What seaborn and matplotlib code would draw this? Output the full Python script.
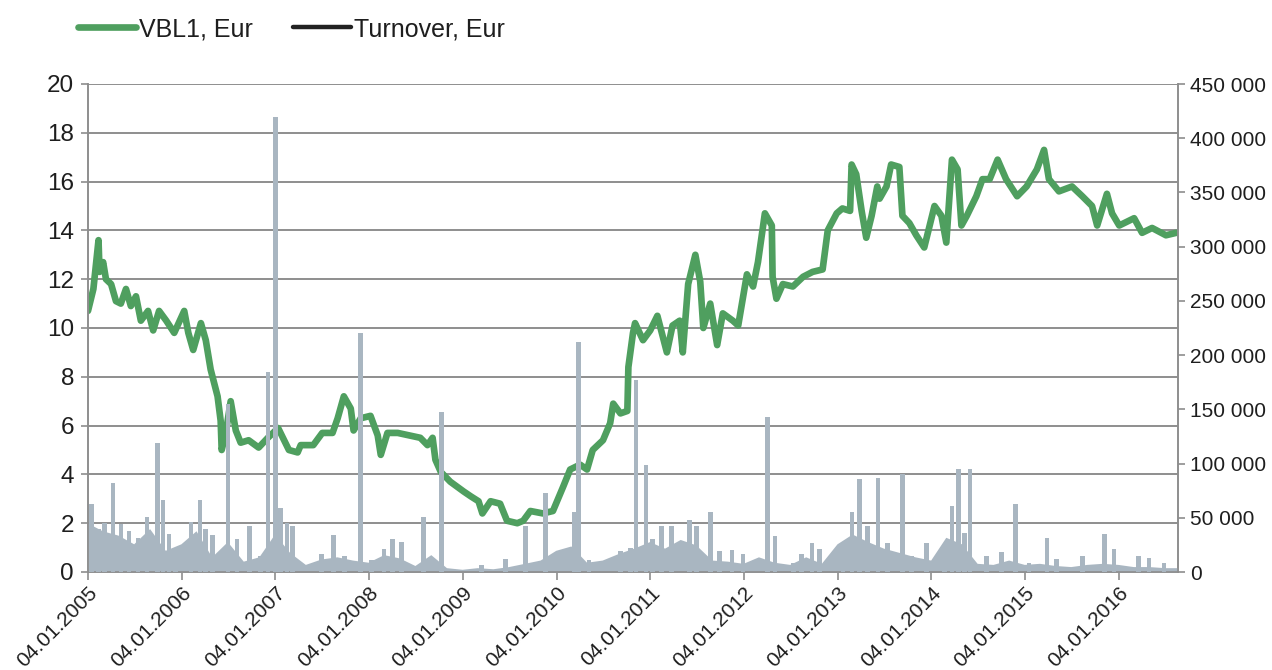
import matplotlib
matplotlib.use("Agg")
import matplotlib.pyplot as plt
import matplotlib.dates as mdates
from matplotlib.lines import Line2D
from matplotlib.ticker import FuncFormatter, MultipleLocator
import seaborn as sns
import pandas as pd

# ---------------- data ----------------
price_dates = [
    "2005-01-04", "2005-01-25", "2005-02-14", "2005-02-18", "2005-03-04", "2005-03-15",
    "2005-04-04", "2005-04-23", "2005-05-12", "2005-06-01", "2005-06-20", "2005-07-10",
    "2005-07-29", "2005-08-26", "2005-09-15", "2005-10-08", "2005-11-05", "2005-12-06",
    "2006-01-14", "2006-01-30", "2006-02-18", "2006-03-20", "2006-04-08", "2006-04-27",
    "2006-05-24", "2006-06-05", "2006-06-09", "2006-06-25", "2006-07-14", "2006-08-03",
    "2006-08-22", "2006-09-22", "2006-10-31", "2006-12-06", "2007-01-15", "2007-02-26",
    "2007-04-01", "2007-04-13", "2007-06-01", "2007-07-06", "2007-08-15", "2007-09-04",
    "2007-09-28", "2007-10-25", "2007-11-05", "2007-12-03", "2008-01-10", "2008-02-07",
    "2008-02-19", "2008-03-16", "2008-04-25", "2008-07-22", "2008-08-19", "2008-09-08",
    "2008-09-19", "2008-10-10", "2008-11-16", "2009-01-07", "2009-02-04", "2009-03-06",
    "2009-03-21", "2009-04-22", "2009-05-29", "2009-06-25", "2009-08-04", "2009-08-27",
    "2009-09-24", "2009-11-12", "2009-12-21", "2010-01-30", "2010-02-26", "2010-04-06",
    "2010-05-03", "2010-05-25", "2010-07-04", "2010-08-01", "2010-08-13", "2010-09-10",
    "2010-10-07", "2010-10-11", "2010-10-29", "2010-11-06", "2010-12-07", "2011-01-04",
    "2011-02-01", "2011-03-10", "2011-04-01", "2011-04-29", "2011-05-11", "2011-06-01",
    "2011-06-29", "2011-07-18", "2011-07-30", "2011-08-26", "2011-09-22", "2011-10-14",
    "2011-11-22", "2011-12-13", "2012-01-16", "2012-02-09", "2012-02-28", "2012-03-26",
    "2012-04-22", "2012-04-25", "2012-05-10", "2012-06-04", "2012-07-13", "2012-08-22",
    "2012-09-28", "2012-11-06", "2012-11-26", "2012-12-31", "2013-01-22", "2013-02-21",
    "2013-02-27", "2013-03-17", "2013-04-07", "2013-04-25", "2013-05-16", "2013-06-07",
    "2013-06-16", "2013-07-13", "2013-07-31", "2013-09-01", "2013-09-13", "2013-10-10",
    "2013-11-06", "2013-12-07", "2014-01-16", "2014-02-12", "2014-03-03", "2014-03-25",
    "2014-04-16", "2014-05-01", "2014-05-22", "2014-06-28", "2014-07-22", "2014-08-19",
    "2014-09-19", "2014-10-22", "2014-12-04", "2015-01-10", "2015-02-19", "2015-03-19",
    "2015-04-07", "2015-05-16", "2015-07-06", "2015-08-15", "2015-09-22", "2015-10-12",
    "2015-11-19", "2015-12-09", "2016-01-06", "2016-03-04", "2016-04-04", "2016-05-13",
    "2016-07-06", "2016-08-15",
]
price_values = [
    10.7, 11.6, 13.6, 12.3, 12.7, 12.0,
    11.8, 11.1, 11.0, 11.6, 10.9, 11.3,
    10.3, 10.7, 9.9, 10.7, 10.3, 9.8,
    10.7, 9.8, 9.1, 10.2, 9.5, 8.3,
    7.2, 6.2, 5.0, 5.7, 7.0, 5.8,
    5.3, 5.4, 5.1, 5.5, 5.9, 5.0,
    4.9, 5.2, 5.2, 5.7, 5.7, 6.3,
    7.2, 6.7, 5.8, 6.3, 6.4, 5.6,
    4.8, 5.7, 5.7, 5.5, 5.2, 5.5,
    4.6, 4.1, 3.7, 3.3, 3.1, 2.9,
    2.4, 2.9, 2.8, 2.1, 2.0, 2.1,
    2.5, 2.4, 2.5, 3.5, 4.2, 4.4,
    4.2, 5.0, 5.4, 6.1, 6.9, 6.5,
    6.6, 8.4, 9.8, 10.2, 9.5, 9.9,
    10.5, 9.0, 10.1, 10.3, 9.0, 11.8,
    13.0, 11.9, 10.0, 11.0, 9.3, 10.6,
    10.3, 10.1, 12.2, 11.7, 12.7, 14.7,
    14.2, 12.1, 11.2, 11.8, 11.7, 12.1,
    12.3, 12.4, 14.0, 14.7, 14.9, 14.8,
    16.7, 16.3, 14.8, 13.7, 14.6, 15.8,
    15.3, 15.8, 16.7, 16.6, 14.6, 14.3,
    13.8, 13.3, 15.0, 14.6, 13.5, 16.9,
    16.5, 14.2, 14.6, 15.4, 16.1, 16.1,
    16.9, 16.1, 15.4, 15.8, 16.5, 17.3,
    16.1, 15.6, 15.8, 15.4, 15.0, 14.2,
    15.5, 14.7, 14.2, 14.5, 13.9, 14.1,
    13.8, 13.9,
]

# turnover: background level (bi-monthly) and individual trading spikes
turnover_base_dates = [
    "2005-01-04", "2005-03-01", "2005-05-01", "2005-07-01", "2005-09-01", "2005-11-01",
    "2006-01-01", "2006-03-01", "2006-05-01", "2006-07-01", "2006-09-01", "2006-11-01",
    "2007-01-01", "2007-03-01", "2007-05-01", "2007-07-01", "2007-09-01", "2007-11-01",
    "2008-01-01", "2008-03-01", "2008-05-01", "2008-07-01", "2008-09-01", "2008-11-01",
    "2009-01-01", "2009-03-01", "2009-05-01", "2009-07-01", "2009-09-01", "2009-11-01",
    "2010-01-01", "2010-03-01", "2010-05-01", "2010-07-01", "2010-09-01", "2010-11-01",
    "2011-01-01", "2011-03-01", "2011-05-01", "2011-07-01", "2011-09-01", "2011-11-01",
    "2012-01-01", "2012-03-01", "2012-05-01", "2012-07-01", "2012-09-01", "2012-11-01",
    "2013-01-01", "2013-03-01", "2013-05-01", "2013-07-01", "2013-09-01", "2013-11-01",
    "2014-01-01", "2014-03-01", "2014-05-01", "2014-07-01", "2014-09-01", "2014-11-01",
    "2015-01-01", "2015-03-01", "2015-05-01", "2015-07-01", "2015-09-01", "2015-11-01",
    "2016-01-01", "2016-03-01", "2016-05-01", "2016-07-01", "2016-08-22",
]
turnover_base_values = [
    45000, 38000, 34000, 26000, 40000, 20000,
    26000, 38000, 14000, 28000, 10000, 14000,
    35000, 18000, 7000, 12000, 14000, 11000,
    9000, 16000, 13000, 6000, 16000, 4000,
    2500, 4000, 3000, 5000, 8000, 11000,
    20000, 24000, 9000, 11000, 17000, 22000,
    28000, 22000, 30000, 25000, 11000, 10000,
    8000, 14000, 9000, 7000, 14000, 8000,
    26000, 35000, 28000, 22000, 18000, 14000,
    11000, 32000, 26000, 8000, 7000, 11000,
    7000, 8000, 6000, 5000, 7000, 8000,
    7000, 5000, 5000, 4000, 4000,
]
turnover_spike_dates = [
    "2005-01-18", "2005-02-14", "2005-03-10", "2005-04-11", "2005-05-12", "2005-06-13",
    "2005-07-18", "2005-08-22", "2005-10-01", "2005-10-24", "2005-11-16", "2005-12-10",
    "2006-02-10", "2006-03-16", "2006-04-07", "2006-05-04", "2006-07-04", "2006-08-08",
    "2006-09-26", "2006-11-08", "2006-12-07", "2007-01-04", "2007-01-25", "2007-02-19",
    "2007-03-13", "2007-07-03", "2007-08-18", "2007-10-01", "2007-12-01", "2008-01-13",
    "2008-03-02", "2008-04-04", "2008-05-10", "2008-08-04", "2008-10-13", "2009-03-17",
    "2009-06-20", "2009-09-04", "2009-11-23", "2010-03-16", "2010-03-31", "2010-05-10",
    "2010-09-10", "2010-10-19", "2010-11-09", "2010-12-19", "2011-01-12", "2011-02-18",
    "2011-03-28", "2011-06-06", "2011-07-04", "2011-08-26", "2011-10-02", "2011-11-19",
    "2012-01-01", "2012-04-04", "2012-05-04", "2012-07-15", "2012-08-16", "2012-09-25",
    "2012-10-25", "2013-01-25", "2013-02-28", "2013-03-29", "2013-05-01", "2013-06-10",
    "2013-07-17", "2013-09-13", "2013-10-19", "2013-12-16", "2014-02-25", "2014-03-25",
    "2014-04-19", "2014-05-13", "2014-06-04", "2014-08-07", "2014-10-04", "2014-11-28",
    "2015-01-20", "2015-03-31", "2015-05-07", "2015-08-15", "2015-11-10", "2015-12-16",
    "2016-03-22", "2016-05-01", "2016-06-28",
]
turnover_spike_values = [
    63000, 40000, 45000, 82000, 44000, 38000,
    31000, 51000, 119000, 66000, 35000, 18000,
    46000, 66000, 40000, 34000, 155000, 30000,
    42000, 15000, 184000, 420000, 59000, 45000,
    42000, 17000, 34000, 15000, 220000, 11000,
    21000, 30000, 28000, 51000, 148000, 6000,
    12000, 42000, 73000, 55000, 212000, 11000,
    19000, 22000, 177000, 99000, 30000, 42000,
    42000, 48000, 42000, 55000, 19000, 20000,
    17000, 143000, 33000, 8000, 17000, 27000,
    21000, 27000, 55000, 86000, 42000, 87000,
    27000, 90000, 15000, 27000, 19000, 61000,
    95000, 36000, 95000, 15000, 18000, 63000,
    8000, 31000, 12000, 15000, 35000, 21000,
    15000, 13000, 8000,
]

year_ticks = [f"{y}-01-04" for y in range(2005, 2017)]

# ---------------- style ----------------
sns.set_theme(style="white")
plt.rcParams["font.family"] = ["Liberation Sans", "DejaVu Sans"]

GREEN = "#4f9f5f"
GRAY_FILL = "#a9b6c1"
GRID = "#8e8e8e"
TEXT = "#1e1e1e"

price_df = pd.DataFrame({"date": pd.to_datetime(price_dates), "price": price_values})
base_dates = pd.to_datetime(turnover_base_dates)
spike_dates = pd.to_datetime(turnover_spike_dates)

fig = plt.figure(figsize=(12.72, 6.70), dpi=100)
ax1 = fig.add_axes([88 / 1272, 98 / 670, 1090 / 1272, 488 / 670])
ax2 = ax1.twinx()

# price line (left axis)
sns.lineplot(data=price_df, x="date", y="price", ax=ax1, color=GREEN,
             linewidth=4.8, legend=False, zorder=2)

# turnover (right axis), drawn above the price line as in the reference
ax2.fill_between(base_dates, turnover_base_values,
                 color=GRAY_FILL, linewidth=0, zorder=2)
ax2.bar(spike_dates, turnover_spike_values, width=18, color=GRAY_FILL,
        linewidth=0, zorder=3)

# axes limits / ticks
xmin, xmax = pd.Timestamp("2005-01-04"), pd.Timestamp("2016-08-22")
ax1.set_xlim(xmin, xmax)
ax1.set_ylim(0, 20)
ax1.yaxis.set_major_locator(MultipleLocator(2))
ax2.set_ylim(0, 450000)
ax2.yaxis.set_major_locator(MultipleLocator(50000))
ax2.yaxis.set_major_formatter(FuncFormatter(lambda v, p: f"{int(v):,}".replace(",", " ")))

ax1.set_xticks(pd.to_datetime(year_ticks))
ax1.xaxis.set_major_formatter(mdates.DateFormatter("%d.%m.%Y"))
for lab in ax1.get_xticklabels():
    lab.set_rotation(45)
    lab.set_ha("right")
    lab.set_rotation_mode("anchor")

ax1.set_xlabel("")
ax1.set_ylabel("")
ax2.set_ylabel("")

ax1.yaxis.grid(True, color=GRID, linewidth=1.4)
ax1.xaxis.grid(False)
ax2.grid(False)
ax1.set_axisbelow(True)

for ax in (ax1, ax2):
    ax.spines["top"].set_visible(False)
    for side in ("left", "right", "bottom"):
        ax.spines[side].set_color(GRID)
        ax.spines[side].set_linewidth(1.2)

ax1.tick_params(axis="y", which="major", direction="out", length=5, width=1.2,
                color=GRID, labelsize=17.5, labelcolor=TEXT, pad=5, left=True)
ax1.tick_params(axis="x", which="major", direction="out", length=6, width=1.2,
                color=GRID, labelsize=15, labelcolor=TEXT, pad=2, bottom=True)
ax2.tick_params(axis="y", which="major", direction="out", length=5, width=1.2,
                color=GRID, labelsize=15, labelcolor=TEXT, pad=4, right=True)

# legend
handles = [
    Line2D([0], [0], color=GREEN, linewidth=4.8),
    Line2D([0], [0], color="#222222", linewidth=3.2),
]
fig.legend(handles, ["VBL1, Eur", "Turnover, Eur"], loc="center left",
           bbox_to_anchor=(78 / 1272, 1 - 29 / 670), ncol=2, frameon=False,
           fontsize=18, handlelength=2.3, handletextpad=0.15, columnspacing=1.6,
           borderpad=0, borderaxespad=0, labelcolor=TEXT)

fig.savefig("out.png", dpi=100)
